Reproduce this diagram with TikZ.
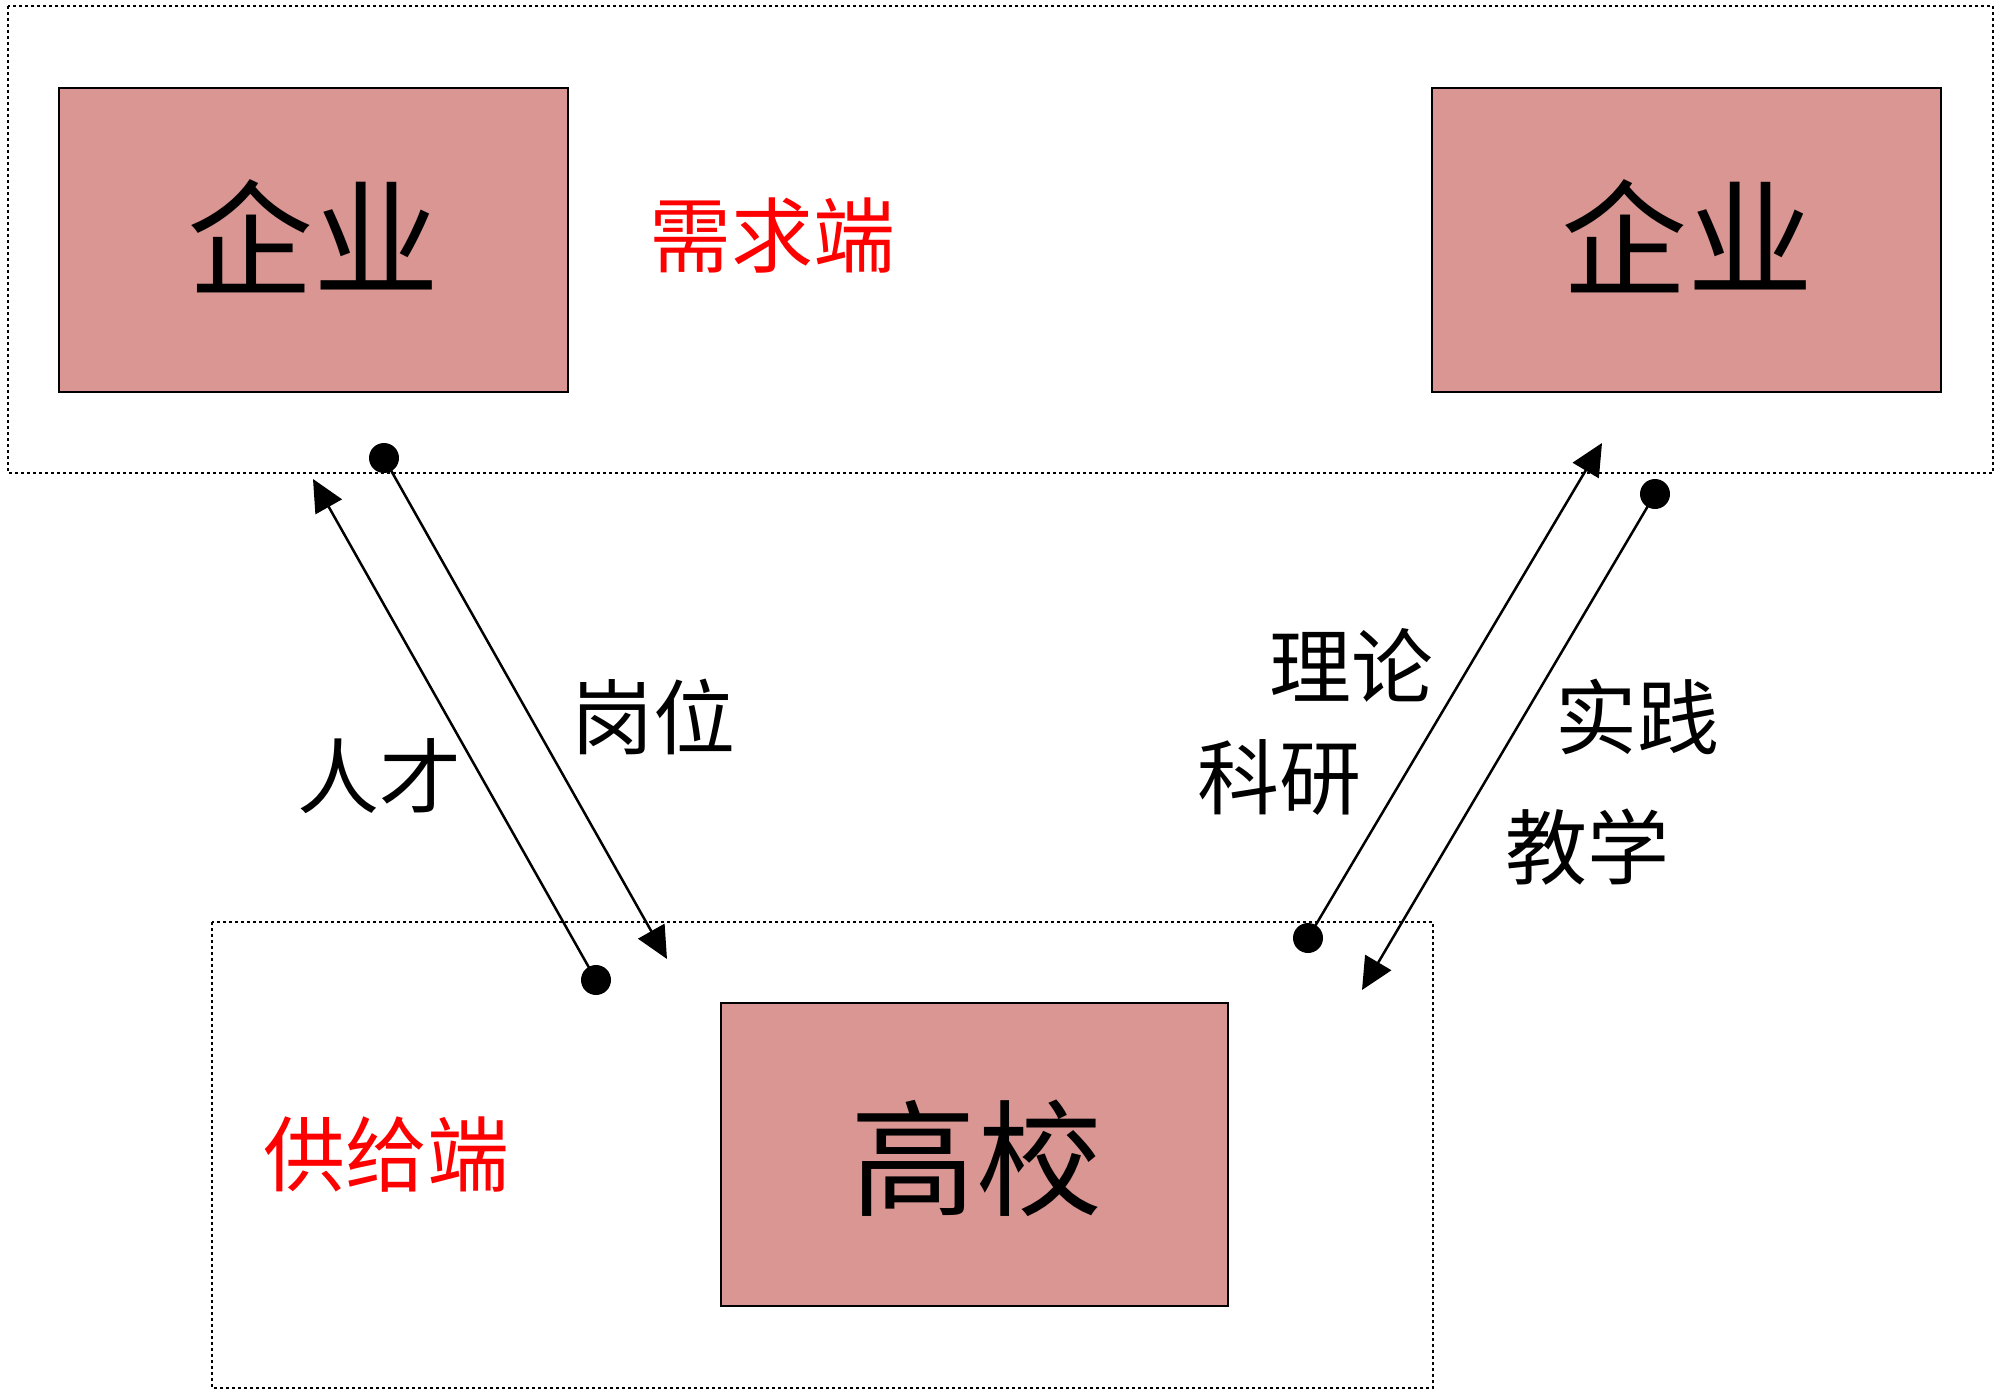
\documentclass[tikz,border=0pt]{standalone}
\usepackage{fontspec}
\newfontfamily\cjk{Noto Sans CJK SC}
\usetikzlibrary{arrows.meta}
\definecolor{boxfill}{RGB}{217,150,146}
\tikzset{
  groupbox/.style={draw=black, line width=2pt, dash pattern=on 3pt off 3pt},
  entity/.style={draw=black, line width=2.5pt, fill=boxfill},
  bigtext/.style={font=\cjk\fontsize{126}{130}\selectfont, inner sep=0pt},
  lbl/.style={font=\cjk\fontsize{82}{86}\selectfont, inner sep=0pt},
  redlbl/.style={lbl, text=red},
  dotnode/.style={circle, fill=black, minimum size=30pt, inner sep=0pt},
  flow/.style={line width=2.5pt, -{Triangle[length=32pt,width=30pt]}, shorten <=-2pt}
}
\begin{document}
\begin{tikzpicture}[x=1pt,y=-1pt]
\useasboundingbox (0,0) rectangle (2000,1396);
% group boxes
\draw[groupbox] (8,6) rectangle (1993,473);
\draw[groupbox] (212,922) rectangle (1433,1388);
% entity boxes
\draw[entity] (59,88) rectangle (568,392);
\draw[entity] (1432,88) rectangle (1941,392);
\draw[entity] (721,1003) rectangle (1228,1306);
\node[bigtext] (qyL) at (313,236) {企业};
\node[bigtext] (qyR) at (1687,236) {企业};
\node[bigtext] (gx) at (976,1158) {高校};
\node[redlbl] (xqd) at (772,236) {需求端};
\node[redlbl] (gjd) at (386,1154) {供给端};
% dots
\node[dotnode] (d1) at (596,980) {};
\node[dotnode] (d2) at (384,458) {};
\node[dotnode] (d3) at (1308,938) {};
\node[dotnode] (d4) at (1655,494) {};
% tips
\coordinate (t1) at (313,479);
\coordinate (t2) at (667,959);
\coordinate (t3) at (1602,443);
\coordinate (t4) at (1362,990);
\draw[flow] (d1.center) -- (t1);
\draw[flow] (d2.center) -- (t2);
\draw[flow] (d3.center) -- (t3);
\draw[flow] (d4.center) -- (t4);
% labels
\node[lbl] (rc) at (379,776) {人才};
\node[lbl] (gw) at (653,717) {岗位};
\node[lbl] (ll) at (1351,665) {理论};
\node[lbl] (ky) at (1279,777) {科研};
\node[lbl] (sj) at (1637,717) {实践};
\node[lbl] (jx) at (1587,847) {教学};
\end{tikzpicture}
\end{document}
